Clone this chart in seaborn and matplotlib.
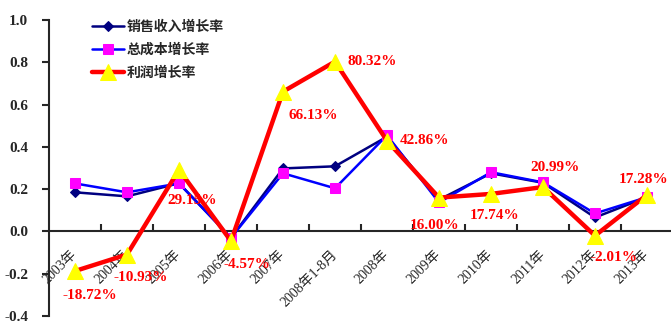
import matplotlib
matplotlib.use("Agg")
import matplotlib.pyplot as plt
import seaborn as sns
import pandas as pd
import numpy as np
from matplotlib.ticker import FixedLocator, FormatStrFormatter

# Growth rates by period
categories = ["2003年", "2004年", "2005年", "2006年", "2007年", "2008年1-8月",
              "2008年", "2009年", "2010年", "2011年", "2012年", "2013年"]
sales_growth = [0.185, 0.166, 0.228, -0.030, 0.298, 0.308, 0.448, 0.150, 0.275, 0.230, 0.066, 0.162]
cost_growth = [0.227, 0.185, 0.227, -0.030, 0.275, 0.204, 0.455, 0.137, 0.280, 0.232, 0.085, 0.162]
profit_growth_pct = [-18.72, -10.93, 29.15, -4.57, 66.13, 80.32, 42.86, 16.00, 17.74, 20.99, -2.01, 17.28]
series_names = ["销售收入增长率", "总成本增长率", "利润增长率"]
y_ticks = [-0.4, -0.2, 0.0, 0.2, 0.4, 0.6, 0.8, 1.0]

# Placement of the profit value labels relative to their points (pixels)
label_offsets = [(15, -24), (14, -23), (13, -31), (16, -23), (30, -24), (37, 0),
                 (37, 0), (-4, -28), (4, -22), (12, 20), (19, -22), (-3, 15)]

sns.set_style("white")
plt.rcParams["font.family"] = ["Liberation Serif", "Noto Sans CJK SC"]

pos = np.arange(len(categories))
df = pd.DataFrame({
    "pos": pos,
    "sales": sales_growth,
    "cost": cost_growth,
    "profit": np.array(profit_growth_pct) / 100.0,
})

fig = plt.figure(figsize=(6.71, 3.31), dpi=100)
ax = fig.add_axes([49 / 671, 15 / 331, 624 / 671, 296 / 331])

sns.lineplot(data=df, x="pos", y="sales", ax=ax, color="#000080", lw=1.8,
             marker="D", markersize=5, markerfacecolor="#000080",
             markeredgecolor="#000080", label=series_names[0], zorder=3)
sns.lineplot(data=df, x="pos", y="cost", ax=ax, color="#0000FF", lw=1.8,
             marker="s", markersize=7, markerfacecolor="#FF00FF",
             markeredgecolor="#FF00FF", label=series_names[1], zorder=4)
sns.lineplot(data=df, x="pos", y="profit", ax=ax, color="#FF0000", lw=3.2,
             marker="^", markersize=11, markerfacecolor="#FFFF00",
             markeredgecolor="#FFFF00", label=series_names[2], zorder=5)

for i, v in enumerate(profit_growth_pct):
    ax.annotate(f"{v:.2f}%", (pos[i], v / 100.0), xytext=label_offsets[i],
                textcoords="offset pixels", ha="center", va="center",
                color="#FF0000", fontsize=11, fontweight="bold", zorder=6)

ax.set_xlim(-0.5, len(categories) - 0.5)
ax.set_ylim(-0.4, 1.0)
ax.set_xlabel("")
ax.set_ylabel("")

# Axes lines: y axis on the left, x axis through zero
for side in ["top", "right"]:
    ax.spines[side].set_visible(False)
ax.spines["left"].set_linewidth(1.5)
ax.spines["bottom"].set_linewidth(1.5)
ax.spines["bottom"].set_position(("data", 0))

ax.set_yticks(y_ticks)
ax.yaxis.set_major_formatter(FormatStrFormatter("%.1f"))
ax.tick_params(axis="y", direction="out", length=5, width=1.5, pad=10,
               labelsize=11, left=True)
for lbl in ax.get_yticklabels():
    lbl.set_fontweight("bold")

ax.set_xticks(pos)
ax.set_xticklabels(categories, rotation=45, ha="right", va="center",
                   rotation_mode="anchor", fontsize=10)
ax.xaxis.set_minor_locator(FixedLocator(np.arange(0.5, len(categories) - 0.5, 1.0)))
ax.tick_params(axis="x", which="major", length=0, pad=15, bottom=True)
ax.tick_params(axis="x", which="minor", direction="in", length=5, width=1.5,
               bottom=True)

ax.legend(loc="upper left", bbox_to_anchor=(92 / 671, 1 - 20 / 331),
          bbox_transform=fig.transFigure, frameon=False, borderpad=0,
          borderaxespad=0, handlelength=2.3, handletextpad=0.2,
          labelspacing=0.65,
          prop={"family": ["Noto Sans CJK SC"], "weight": "bold", "size": 10})

fig.savefig("out.png", dpi=100)
